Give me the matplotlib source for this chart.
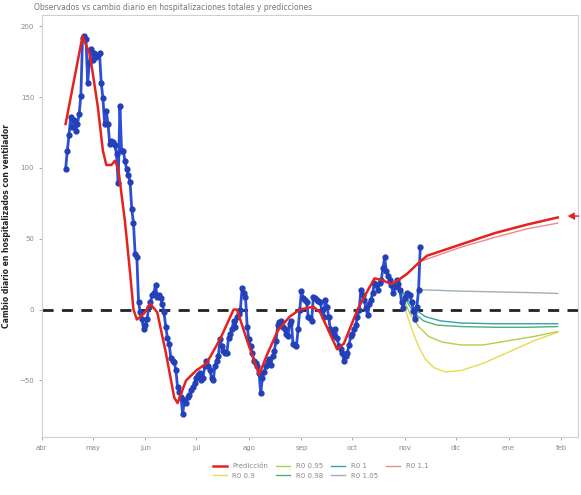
import datetime as dt
import matplotlib
matplotlib.use("Agg")
import matplotlib.pyplot as plt

START = dt.date(2020, 4, 1)

# observed daily change, one value per day starting at day 14 after START
obs_first_day = 14
obs_values = [
    99, 112, 123, 136, 129, 134, 126, 131, 138, 151,
    192, 193, 191, 160, 174, 184, 176, 181, 178, 180,
    181, 160, 149, 131, 140, 131, 117, 119, 118, 116,
    110, 89, 144, 112, 112, 105, 99, 95, 90, 71,
    61, 39, 37, 5, -2, -7, -14, -11, -7, 2,
    5, 10, 12, 17, 9, 10, 8, 4, -2, -12,
    -20, -24, -34, -36, -37, -43, -55, -58, -62, -74,
    -64, -66, -62, -60, -57, -55, -52, -48, -46, -45,
    -50, -48, -40, -36, -40, -43, -48, -50, -40, -36,
    -33, -21, -26, -29, -31, -31, -20, -17, -14, -8,
    -12, -5, -3, 0, 15, 12, 9, -12, -21, -26,
    -31, -36, -38, -40, -45, -59, -48, -44, -40, -37,
    -35, -39, -33, -29, -22, -11, -9, -8, -12, -14,
    -17, -19, -10, -8, -24, -25, -26, -14, 0, 13,
    8, 7, 5, -5, -6, -8, 9, 8, 7, 6,
    5, 0, -5, 7, 2, -5, -14, -16, -19, -14,
    -20, -26, -28, -31, -36, -33, -31, -25, -19, -17,
    -14, -11, -5, 0, 14, 10, 7, 1, -4, 4,
    7, 12, 19, 17, 14, 19, 21, 29, 37, 27,
    24, 21, 17, 12, 16, 21, 18, 14, 5, 1,
    8, 12, 11, 10, 5, -1, -7, 2, 14, 44,
]

# fitted curve + prediction
fit_days = [14, 24, 28, 30, 33, 36, 38, 41, 43, 45, 47, 49, 52, 54, 56, 60, 64, 68,
            73, 78, 80, 85, 91, 97, 105, 113, 115, 121, 128, 133, 139, 146, 152,
            160, 164, 174, 178, 186, 190, 196, 200, 206, 209, 215, 223, 227, 247,
            267, 286, 304]
fit_values = [131, 193, 181, 167, 143, 112, 102, 102, 105, 100, 81, 62, 26, 0, -7, -3, 4, -2,
              -30, -62, -66, -50, -43, -38, -21, 0, 0, -22, -46, -31, -15, -5, 0,
              2, -2, -28, -24, 0, 9, 22, 21, 18, 20, 25, 34, 38, 46,
              54, 60, 65]

# scenarios
r090_days = [209, 212, 215, 218, 222, 226, 231, 238, 247, 260, 275, 290, 304]
r090 = [19, 8, -3, -14, -26, -35, -41, -44, -43, -38, -30, -22, -16]
r095_days = [209, 213, 217, 222, 228, 236, 247, 260, 275, 290, 304]
r095 = [19, 8, -3, -12, -19, -23, -25, -25, -22, -19, -15.5]
r098_days = [209, 214, 219, 225, 233, 247, 267, 286, 304]
r098 = [19, 8, -2, -8, -11, -12, -12.5, -12.5, -12]
r100_days = [209, 215, 220, 226, 235, 247, 267, 286, 304]
r100 = [19, 8, 0, -5, -8, -9.5, -10, -10, -10]
r105_days = [223, 247, 267, 286, 304]
r105 = [14, 13, 12.5, 12, 11.4]
r110_days = [223, 247, 267, 286, 304]
r110 = [34, 44, 51, 57, 61]

month_labels = ['abr', 'may', 'jun', 'jul', 'ago', 'sep', 'oct', 'nov', 'dic', 'ene', 'feb']


def to_dates(days):
	return [START + dt.timedelta(days=int(d)) for d in days]


obs_dates = to_dates(range(obs_first_day, obs_first_day + len(obs_values)))

fig = plt.figure(figsize=(5.81, 4.95), dpi=100)
ax = fig.add_axes([0.072, 0.117, 0.923, 0.853])

scen = [
	(r090_days, r090, '#e8dc4c', 'R0 0.9'),
	(r095_days, r095, '#b5cc52', 'R0 0.95'),
	(r098_days, r098, '#4fae7a', 'R0 0.98'),
	(r100_days, r100, '#3a9fa8', 'R0 1'),
	(r105_days, r105, '#9fb0bc', 'R0 1.05'),
	(r110_days, r110, '#ee8a8a', 'R0 1.1'),
]

ax.axhline(0, color='#222222', lw=2, ls=(0, (4, 3)), zorder=1)
ax.plot(obs_dates, obs_values, color='#2d4fd6', lw=2, marker='o', ms=3.5,
        mfc='#2340b8', mec='#2340b8', zorder=3)
ax.plot(to_dates(fit_days), fit_values, color='#e4221e', lw=1.8, zorder=4,
        label='Predicción')
for d, v, c, lab in scen:
	ax.plot(to_dates(d), v, color=c, lw=1, zorder=2, label=lab)

# arrow at right end
ax.annotate('', xy=(START + dt.timedelta(days=308), 66),
            xytext=(START + dt.timedelta(days=318), 66),
            arrowprops=dict(arrowstyle='-|>', color='#e4221e', lw=1, ls='--'),
            annotation_clip=False)

ax.set_xlim(START, START + dt.timedelta(days=316))
ax.set_ylim(-90, 208)
ax.set_yticks([-50, 0, 50, 100, 150, 200])
ticks = [dt.date(2020 + (3 + i) // 12, (3 + i) % 12 + 1, 1) for i in range(len(month_labels))]
ax.set_xticks(ticks)
ax.set_xticklabels(month_labels)

for s in ax.spines.values():
	s.set_color('#d0d0d0')
	s.set_linewidth(0.8)
ax.tick_params(colors='#999999', labelsize=5, length=2, width=0.6, labelcolor='#888888')

ax.set_ylabel('Cambio diario en hospitalizados con ventilador', fontsize=5.5,
              fontweight='bold', color='#222222', labelpad=6)
fig.text(0.058, 0.985, 'Observados vs cambio diario en hospitalizaciones totales y predicciones',
         fontsize=5.5, color='#777777', va='center')

handles, labels = ax.get_legend_handles_labels()
ax.legend(handles, labels, ncol=4, loc='center', bbox_to_anchor=(0.52, -0.08),
          frameon=False, fontsize=5, handlelength=2, columnspacing=1.2,
          labelcolor='#888888')

fig.savefig('out.png', dpi=100)
